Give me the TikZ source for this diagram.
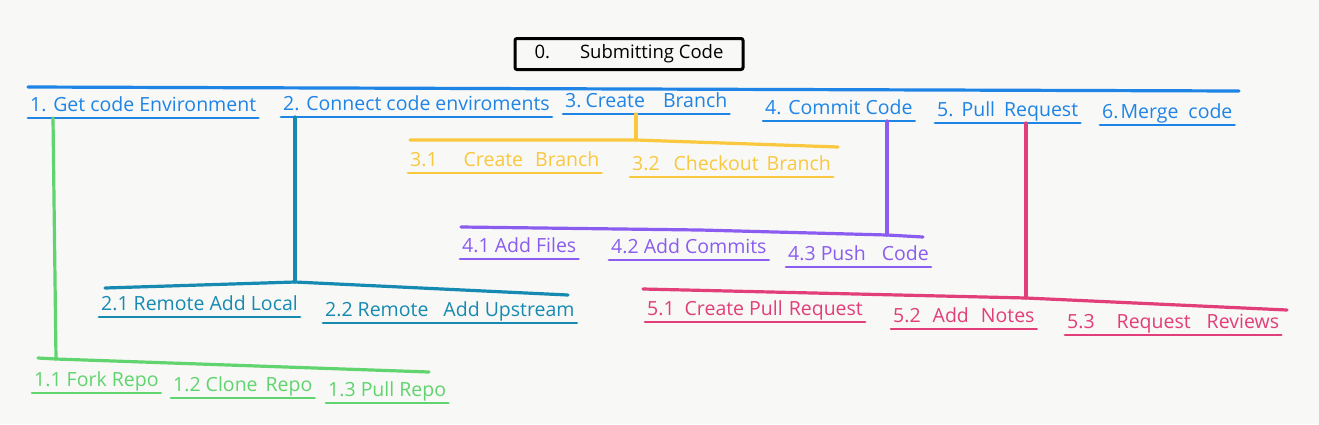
\documentclass[tikz,border=0pt]{standalone}
\usepackage{fontspec}
\setmainfont{Open Sans}
\usetikzlibrary{positioning,calc}

\definecolor{paper}{RGB}{248,248,246}
\definecolor{blu}{RGB}{30,132,230}
\definecolor{ylw}{RGB}{250,200,62}
\definecolor{prp}{RGB}{138,92,240}
\definecolor{tel}{RGB}{22,138,176}
\definecolor{pnk}{RGB}{226,62,122}
\definecolor{grn}{RGB}{96,212,110}

\tikzset{
  bar/.style={line width=3.2pt, line cap=round, line join=round},
  uline/.style={line width=2.8pt, line cap=round},
  lbl/.style={anchor=base west, inner sep=0pt, font=\fontsize{19.5}{22}\selectfont},
}

\begin{document}
\begin{tikzpicture}[x=1pt,y=-1pt]
\fill[paper] (0,0) rectangle (1319,424);
\useasboundingbox (0,0) rectangle (1319,424);

% title box
\node[draw=black, line width=3pt, rounded corners=2pt, minimum width=228pt, minimum height=31pt,
      font=\fontsize{18.5}{20}\selectfont] (t0) at (629,54) {0.\hspace{30pt}Submitting Code\hspace{24pt}};

% top bar
\draw[bar, blu] (28,87) -- (1239,91);

% level 1
\node[lbl, blu] (e1) at (30,111) {1. Get code Environment};
\node[lbl, blu] (e2) at (283,110) {2. Connect code enviroments};
\node[lbl, blu] (e3) at (565,107) {3.\hspace{4pt}Create\hspace{18pt}Branch};
\node[lbl, blu] (e4) at (765,114) {4. Commit Code};
\node[lbl, blu] (e5) at (937,116) {5.\hspace{8pt}Pull\hspace{9pt}Request};
\node[lbl, blu] (e6) at (1102,118) {6.\hspace{2pt}Merge\hspace{10pt}code};

% 3.x
\node[lbl, ylw] (y1) at (410,166) {3.1\hspace{26pt}Create\hspace{12pt}Branch};
\node[lbl, ylw] (y2) at (632,170) {3.2\hspace{14pt}Checkout\hspace{8pt}Branch};
% 4.x
\node[lbl, prp] (p1) at (462,252) {4.1 Add Files};
\node[lbl, prp] (p2) at (611,253) {4.2 Add Commits};
\node[lbl, prp] (p3) at (788,260) {4.3 Push\hspace{16pt}Code};
% 2.x
\node[lbl, tel] (c1) at (101,310) {2.1 Remote Add Local};
\node[lbl, tel] (c2) at (325,316) {2.2 Remote\hspace{15pt}Add Upstream};
% 5.x
\node[lbl, pnk] (k1) at (647,315) {5.1\hspace{10pt}Create Pull\hspace{6pt}Request};
\node[lbl, pnk] (k2) at (893,322) {5.2\hspace{12pt}Add\hspace{12pt}Notes};
\node[lbl, pnk] (k3) at (1067,328) {5.3\hspace{22pt}Request\hspace{16pt}Reviews};
% 1.x
\node[lbl, grn] (g1) at (34,386) {1.1 Fork Repo};
\node[lbl, grn] (g2) at (173,391) {1.2 Clone\hspace{8pt}Repo};
\node[lbl, grn] (g3) at (328,396) {1.3 Pull Repo};

% underlines
\foreach \n/\c in {e1/blu,e2/blu,e3/blu,e4/blu,e5/blu,e6/blu,y1/ylw,y2/ylw,p1/prp,p2/prp,p3/prp,
                   c1/tel,c2/tel,k1/pnk,k2/pnk,k3/pnk,g1/grn,g2/grn,g3/grn}
  \draw[uline, \c] ([xshift=-2pt,yshift=-7pt]\n.base west) -- ([xshift=2pt,yshift=-7pt]\n.base east);

% sub bars
\coordinate (yb) at (636,140);
\draw[bar, ylw] (410,140) -- (yb) -- (838,147);
\draw[bar, ylw] (yb |- e3.base) ++(0,7) -- (yb);

\coordinate (pb) at (887,235);
\draw[bar, prp] (461,227) -- (700,230) -- (pb) -- (923,237);
\draw[bar, prp] (pb |- e4.base) ++(0,7) -- (pb);

\coordinate (cb) at (295,282);
\draw[bar, tel] (105,288) -- (cb) -- (568,295);
\draw[bar, tel] (cb |- e2.base) ++(0,7) -- (cb);

\coordinate (kb) at (1026,298);
\draw[bar, pnk] (643,289) -- (kb) -- (1287,310);
\draw[bar, pnk] (kb |- e5.base) ++(0,7) -- (kb);

\coordinate (gb) at (56,359);
\draw[bar, grn] (38,358) -- (gb) -- (429,372);
\draw[bar, grn] (53,118) -- (gb);
\end{tikzpicture}
\end{document}
